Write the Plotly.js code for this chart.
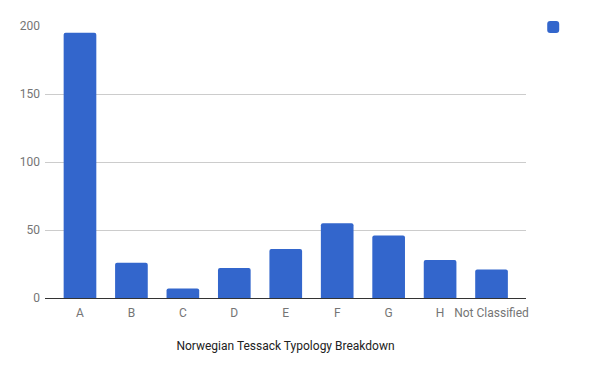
<!DOCTYPE html>
<html><head><meta charset="utf-8">
<script src="https://cdn.plot.ly/plotly-3.0.1.min.js"></script>
<style>html,body{margin:0;padding:0;background:#fff}#c{width:600px;height:371px}</style>
</head><body><div id="c"></div>
<script>
const categories = ["A","B","C","D","E","F","G","H","Not Classified"];
const counts = [195, 26, 7, 22, 36, 55, 46, 28, 21];
const yTicks = [0, 50, 100, 150, 200];
const xTitle = "Norwegian Tessack Typology Breakdown";

Plotly.newPlot('c', [{
  type: 'bar', x: categories, y: counts, name: '', showlegend: true,
  marker: {color: '#3366cc', cornerradius: 2}, hoverinfo: 'x+y'
}], {
  width: 600, height: 371,
  margin: {l: 45, r: 74, t: 26, b: 73, pad: 0},
  paper_bgcolor: '#fff', plot_bgcolor: '#fff',
  bargap: 0.365,
  font: {family: 'Roboto, Arial, sans-serif', size: 12, color: '#757575'},
  showlegend: true,
  legend: {x: 1.015, xanchor: 'left', y: 1.05, yanchor: 'top', font: {size: 12, color: '#222'}},
  xaxis: {
    type: 'category', range: [-0.68, 8.67], showgrid: false, zeroline: false, showline: true, linecolor: '#333', linewidth: 1,
    ticks: '', tickfont: {color: '#757575', size: 12}, ticklabelstandoff: 4,
    title: {text: xTitle, font: {color: '#222', size: 12}, standoff: 22}
  },
  yaxis: {
    range: [0, 200], tickvals: yTicks, ticktext: yTicks.map(String),
    showgrid: true, gridcolor: '#cccccc', zeroline: true, zerolinecolor: '#333', zerolinewidth: 1,
    ticks: '', tickfont: {color: '#757575', size: 12}, ticklabelstandoff: 4
  }
}, {displayModeBar: false});
</script></body></html>
